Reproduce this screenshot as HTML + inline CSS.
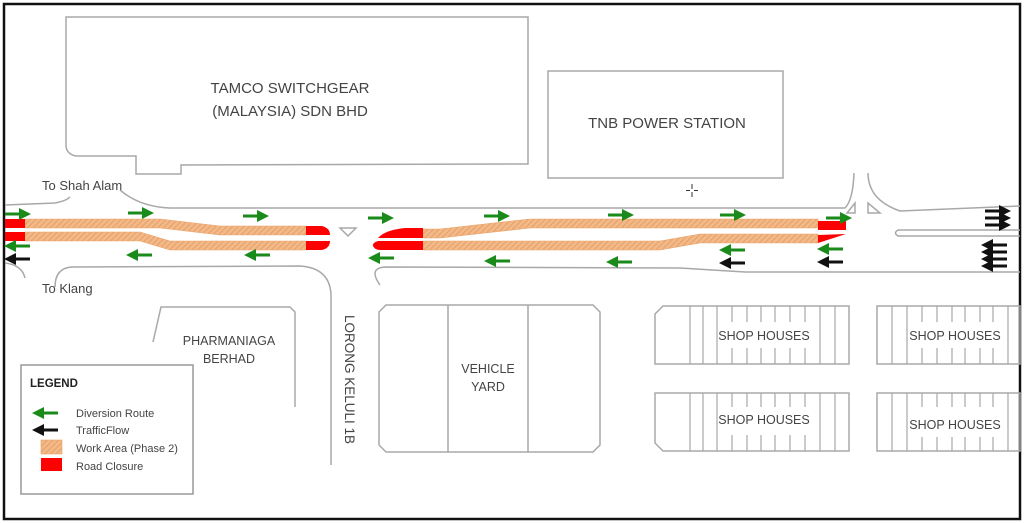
<!DOCTYPE html>
<html><head><meta charset="utf-8"><style>
html,body{margin:0;padding:0;background:#fff;}
svg{display:block;font-family:"Liberation Sans",sans-serif;}
</style></head><body>
<svg width="1024" height="523" viewBox="0 0 1024 523" xmlns="http://www.w3.org/2000/svg">
<defs>
<pattern id="h" width="4" height="4" patternUnits="userSpaceOnUse" patternTransform="rotate(45)">
<rect width="4" height="4" fill="#f2b98a"/><rect width="1.2" height="4" fill="#e9a268"/>
</pattern>
<marker id="ga" markerWidth="4" markerHeight="4" refX="2" refY="2" orient="auto" markerUnits="strokeWidth"><path d="M0,0 L4,2 L0,4 z" fill="#1a8a1a"/></marker>
<marker id="ba" markerWidth="4" markerHeight="4" refX="2" refY="2" orient="auto" markerUnits="strokeWidth"><path d="M0,0 L4,2 L0,4 z" fill="#111"/></marker>
</defs>
<rect x="0" y="0" width="1024" height="523" fill="#fff"/>
<rect x="4" y="4" width="1016" height="515" fill="none" stroke="#111" stroke-width="2.5"/>

<g fill="none" stroke="#a8a8a8" stroke-width="1.5">
<!-- TAMCO -->
<path d="M66,17 L528,17 L528,164 L181,165 L181,174 L136,174 L136,156 L76,156 Q66,154 66,145 Z"/>
<rect x="548" y="71" width="235" height="107"/>
<!-- road top -->
<path d="M5,205 L55,203 Q66,201 70,197"/>
<path d="M120,190 Q140,207 170,208 L845,208 Q853,200 854,173"/>
<path d="M868,173 Q868,200 900,211 L1020,206"/>
<path d="M1020,230 L898,230 Q893,233 898,236 L1020,236"/>
<!-- road bottom -->
<path d="M5,263 Q22,265 25,278"/>
<path d="M55,287 Q55,268 72,267 L300,266 Q330,268 331,295 L331,465"/>
<path d="M380,285 Q368,268 385,267 L680,268 L745,272 L1020,272"/>
<!-- triangles -->
<path d="M340,228 L356,228 L348,236 Z"/>
<path d="M847,213 L855,203 L855,213 Z"/>
<path d="M868,203 L880,213 L868,213 Z"/>
<!-- pharmaniaga -->
<path d="M153,342 L161,307 L290,307 L295,312 L295,407"/>
<!-- vehicle yard -->
<path d="M386,305 L593,305 L600,312 L600,445 L593,452 L386,452 L379,445 L379,312 Z"/>
<line x1="448" y1="305" x2="448" y2="452"/><line x1="528" y1="305" x2="528" y2="452"/>
<!-- shop houses -->
<path d="M663,306 L849,306 L849,364 L655,364 L655,314 Z"/>
<path d="M655,393 L849,393 L849,451 L663,451 L655,443 Z"/>
<rect x="877" y="306" width="143" height="58"/>
<rect x="877" y="393" width="143" height="58"/>
</g>
<g stroke="#a8a8a8" stroke-width="1.2">
<path d="M690,306V364M703,306V364M717,306V364M820,306V364M835,306V364"/>
<path d="M732,306V322M747,306V322M761,306V322M775,306V322M790,306V322M805,306V322"/>
<path d="M732,348V364M747,348V364M761,348V364M775,348V364M790,348V364M805,348V364"/>
<path d="M690,393V451M703,393V451M717,393V451M820,393V451M835,393V451"/>
<path d="M732,393V407M747,393V407M761,393V407M775,393V407M790,393V407M805,393V407"/>
<path d="M732,435V451M747,435V451M761,435V451M775,435V451M790,435V451M805,435V451"/>
<path d="M892,306V364M907,306V364M1008,306V364"/>
<path d="M922,306V322M937,306V322M952,306V322M965,306V322M980,306V322M993,306V322"/>
<path d="M922,348V364M937,348V364M952,348V364M965,348V364M980,348V364M993,348V364"/>
<path d="M892,393V451M907,393V451M1008,393V451"/>
<path d="M922,393V407M937,393V407M952,393V407M965,393V407M980,393V407M993,393V407"/>
<path d="M922,437V451M937,437V451M952,437V451M965,437V451M980,437V451M993,437V451"/>
</g>

<!-- work areas -->
<g fill="url(#h)" stroke="#e9a268" stroke-width="0.6">
<path d="M25,219 L160,219 L220,226 L306,226 L306,235 L220,235 L160,228 L25,228 Z"/>
<path d="M25,232 L140,232 L170,241 L306,241 L306,250 L170,250 L140,241 L25,241 Z"/>
<path d="M423,229 L440,229 L530,219 L818,219 L818,228 L530,228 L440,238 L423,238 Z"/>
<path d="M423,241 L660,241 L700,234 L818,234 L818,243 L700,243 L660,250 L423,250 Z"/>
</g>
<g fill="#ff0000">
<rect x="5" y="219" width="20" height="9"/>
<rect x="5" y="232" width="20" height="9"/>
<path d="M306,226 L322,226 Q330,228 330,235 L306,235 Z"/>
<path d="M306,241 L330,241 Q330,248 322,250 L306,250 Z"/>
<path d="M378,238 Q385,230 405,228 L423,228 L423,238 Z"/>
<path d="M423,241 L378,241 Q372,243 373,246 Q375,250 380,250 L423,250 Z"/>
<path d="M818,221 L846,221 L846,230 L818,230 Z"/>
<path d="M818,235 L846,234 L818,243 Z"/>
</g>

<!-- arrows -->
<g stroke="#1a8a1a" stroke-width="3" marker-end="url(#ga)">
<line x1="5" y1="214" x2="25" y2="214"/><line x1="128" y1="213" x2="148" y2="213"/>
<line x1="243" y1="216" x2="263" y2="216"/><line x1="368" y1="218" x2="388" y2="218"/>
<line x1="484" y1="216" x2="504" y2="216"/><line x1="608" y1="215" x2="628" y2="215"/>
<line x1="720" y1="215" x2="740" y2="215"/><line x1="826" y1="218" x2="846" y2="218"/>
<line x1="30" y1="246" x2="10" y2="246"/><line x1="152" y1="255" x2="132" y2="255"/>
<line x1="270" y1="255" x2="250" y2="255"/><line x1="394" y1="258" x2="374" y2="258"/>
<line x1="510" y1="261" x2="490" y2="261"/><line x1="632" y1="262" x2="612" y2="262"/>
<line x1="745" y1="250" x2="725" y2="250"/><line x1="843" y1="249" x2="823" y2="249"/>
<line x1="58" y1="413" x2="38" y2="413"/>
</g>
<g stroke="#111" stroke-width="3" marker-end="url(#ba)">
<line x1="30" y1="259" x2="10" y2="259"/><line x1="745" y1="263" x2="725" y2="263"/>
<line x1="843" y1="262" x2="823" y2="262"/>
<line x1="985" y1="211" x2="1005" y2="211"/><line x1="985" y1="218" x2="1005" y2="218"/><line x1="985" y1="225" x2="1005" y2="225"/>
<line x1="1007" y1="245" x2="987" y2="245"/><line x1="1007" y1="252" x2="987" y2="252"/><line x1="1007" y1="259" x2="987" y2="259"/><line x1="1007" y1="266" x2="987" y2="266"/>
<line x1="58" y1="430" x2="38" y2="430"/>
</g>
<!-- crosshair -->
<g stroke="#333" stroke-width="1"><path d="M692,184V189M692,192V197M686,190.5H690M694,190.5H698"/></g>

<!-- legend -->
<rect x="21" y="365" width="172" height="129" fill="none" stroke="#999" stroke-width="1.5"/>
<rect x="41" y="440" width="21" height="14" fill="url(#h)" stroke="#e9a268" stroke-width="0.6"/>
<rect x="41" y="458" width="21" height="13" fill="#ff0000"/>

<g fill="#444" font-size="15" text-anchor="middle">
<text x="290" y="93">TAMCO SWITCHGEAR</text>
<text x="290" y="116">(MALAYSIA) SDN BHD</text>
<text x="667" y="128">TNB POWER STATION</text>
</g>
<g fill="#444" font-size="13">
<text x="42" y="190">To Shah Alam</text>
<text x="42" y="293">To Klang</text>
</g>
<g fill="#444" font-size="12.5" text-anchor="middle">
<text x="229" y="345">PHARMANIAGA</text>
<text x="229" y="363">BERHAD</text>
<text x="488" y="373">VEHICLE</text>
<text x="488" y="391">YARD</text>
<text x="764" y="340">SHOP HOUSES</text>
<text x="764" y="424">SHOP HOUSES</text>
<text x="955" y="340">SHOP HOUSES</text>
<text x="955" y="429">SHOP HOUSES</text>
</g>
<text transform="translate(345,315) rotate(90)" fill="#444" font-size="13.5">LORONG KELULI 1B</text>
<text x="30" y="387" font-size="11.5" font-weight="bold" fill="#222">LEGEND</text>
<g fill="#444" font-size="11">
<text x="76" y="417">Diversion Route</text>
<text x="76" y="434">TrafficFlow</text>
<text x="76" y="452">Work Area (Phase 2)</text>
<text x="76" y="470">Road Closure</text>
</g>
</svg>
</body></html>
